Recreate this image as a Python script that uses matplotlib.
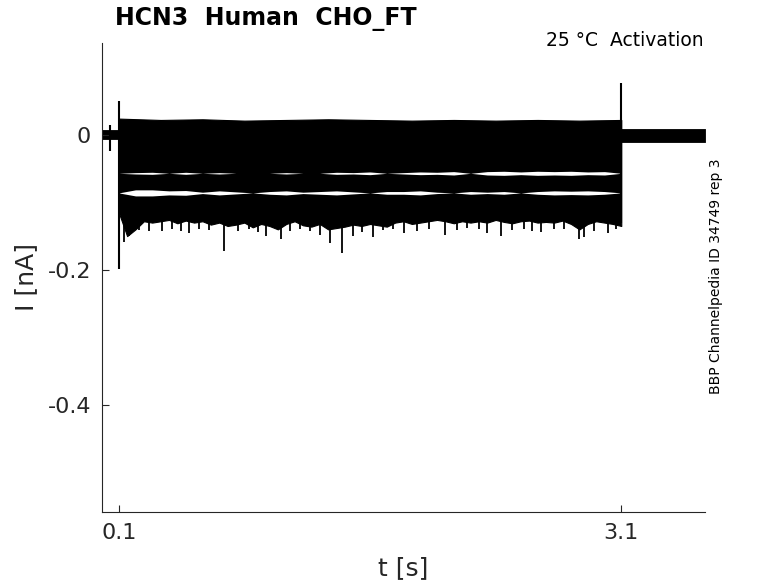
import numpy as np
import matplotlib
matplotlib.use("Agg")
import matplotlib.pyplot as plt

# ---------------- data ----------------
title = "HCN3  Human  CHO_FT"
condition = "25 °C  Activation"
side_note = "BBP Channelpedia ID 34749 rep 3"

x_ticks = [0.1, 3.1]
x_ticklabels = ["0.1", "3.1"]
y_ticks = [0.0, -0.2, -0.4]
y_ticklabels = ["0", "-0.2", "-0.4"]

step_on = 0.1       # s
step_off = 3.1      # s
t_end = 3.6         # s

# holding current band before / after the test pulse (nA)
pre_band = (-0.006, 0.007)
post_band = (-0.010, 0.009)
pre_blip_t = 0.05
pre_blip = (-0.024, 0.014)

# capacitive transients (nA)
on_transient = (-0.198, 0.050)
off_transient = (-0.130, 0.077)

# upper edge of the family of sweeps during the pulse, every 0.25 s
upper_env = [0.024, 0.022, 0.023, 0.021, 0.022, 0.023, 0.022,
             0.021, 0.022, 0.021, 0.022, 0.021, 0.022]

# lower edge of the deepest sweep during the pulse, every 0.05 s
lower_env = [-0.115, -0.150, -0.140, -0.128, -0.130, -0.128, -0.126, -0.131,
             -0.127, -0.130, -0.128, -0.133, -0.130, -0.135, -0.133, -0.130,
             -0.137, -0.132, -0.135, -0.140, -0.132, -0.128, -0.134, -0.136,
             -0.132, -0.140, -0.138, -0.136, -0.133, -0.135, -0.132, -0.134,
             -0.136, -0.130, -0.128, -0.132, -0.130, -0.128, -0.126, -0.128,
             -0.131, -0.128, -0.130, -0.128, -0.130, -0.126, -0.129, -0.131,
             -0.128, -0.127, -0.130, -0.129, -0.130, -0.127, -0.132, -0.140,
             -0.132, -0.128, -0.130, -0.132, -0.135]

# downward noise spikes of the lowest sweeps
spike_t = [0.13, 0.16, 0.36, 0.52, 0.73, 0.98, 1.07, 1.30, 1.36, 1.43,
           1.50, 1.62, 1.80, 2.05, 2.30, 2.38, 2.62, 2.85, 2.88, 3.02,
           0.22, 0.28, 0.42, 0.47, 0.58, 0.64, 0.81, 0.88, 0.93, 1.12,
           1.18, 1.24, 1.55, 1.68, 1.74, 1.88, 1.95, 2.12, 2.18, 2.25,
           2.45, 2.52, 2.57, 2.70, 2.76, 2.94, 3.07]
spike_v = [-0.158, -0.150, -0.142, -0.145, -0.172, -0.150, -0.155, -0.148,
           -0.160, -0.175, -0.150, -0.152, -0.145, -0.148, -0.146, -0.150,
           -0.144, -0.155, -0.152, -0.146,
           -0.141, -0.143, -0.140, -0.142, -0.139, -0.141, -0.143, -0.140,
           -0.144, -0.142, -0.140, -0.143, -0.144, -0.141, -0.140, -0.142,
           -0.139, -0.141, -0.138, -0.140, -0.141, -0.139, -0.142, -0.140,
           -0.139, -0.142, -0.140]

# spaces between neighbouring sweeps: level (nA) and half-opening every 0.1 s (nA)
gap_levels = [-0.057, -0.086]
gap_open = [
    [0, .001, .0015, 0, .0015, 0, .001, 0, 0, 0, .001, 0, 0, .0015,
     .001, .002, 0, .001, .002, .0015, .0025, 0, .0025, .003, .002, .003,
     .0025, .003, .002, .0025, 0],
    [0, .0045, .0045, .003, .0035, .001, .003, .0015, 0, .002, .003, .001,
     .002, .003, .0015, 0, .002, .002, .003, .001, 0, .002, .001, .002, 0,
     .002, .003, .0025, .003, .002, 0],
]

# ---------------- figure ----------------
fig = plt.figure(figsize=(7.78, 5.83), dpi=100)
ax = fig.add_axes([0.1311, 0.1218, 0.7751, 0.8045])
axis_col = "#262626"

t_up = np.linspace(step_on, step_off, len(upper_env))
t_low = np.linspace(step_on, step_off, len(lower_env))
t_gap = np.linspace(step_on, step_off, len(gap_open[0]))

# holding segments
ax.fill_between([0, step_on], pre_band[0], pre_band[1], color="k", lw=0.6)
ax.vlines(pre_blip_t, pre_blip[0], pre_blip[1], color="k", lw=1.5)
ax.fill_between([step_off, t_end], post_band[0], post_band[1], color="k", lw=0.6)

# family of sweeps during the pulse
up_i = np.interp(t_low, t_up, upper_env)
ax.fill_between(t_low, lower_env, up_i, color="k", lw=0.8, edgecolor="k")
ax.vlines(spike_t, np.interp(spike_t, t_low, lower_env) + 0.01, spike_v,
          color="k", lw=1.3)

for lvl, op in zip(gap_levels, gap_open):
    op = np.array(op)
    ax.fill_between(t_gap, lvl - op, lvl + op, color="white", lw=0)

# transients
ax.vlines(step_on, on_transient[0], on_transient[1], color="k", lw=1.5)
ax.vlines(step_off, off_transient[0], off_transient[1], color="k", lw=1.5)

# axes styling
ax.set_xlim(0, t_end)
ax.set_ylim(-0.5585, 0.136)
for s in ["top", "right"]:
    ax.spines[s].set_visible(False)
for s in ["left", "bottom"]:
    ax.spines[s].set_color(axis_col)
    ax.spines[s].set_linewidth(0.8)
ax.set_xticks(x_ticks)
ax.set_xticklabels(x_ticklabels)
ax.set_yticks(y_ticks)
ax.set_yticklabels(y_ticklabels)
ax.tick_params(direction="in", length=5, width=0.8, colors=axis_col,
               labelsize=16, pad=8)
ax.set_xlabel("t [s]", fontsize=18, color=axis_col, labelpad=9)
ax.set_ylabel("I [nA]", fontsize=18, color=axis_col, labelpad=7)

fig.text(115 / 778, 1 - 19 / 583, title, fontsize=17, fontweight="bold",
         ha="left", va="center", color="k")
fig.text(704 / 778, 1 - 40 / 583, condition, fontsize=13.5,
         ha="right", va="center", color="k")
fig.text(716 / 778, 1 - 276 / 583, side_note, fontsize=10, rotation=90,
         ha="center", va="center", color="k")

fig.savefig("out.png", dpi=100)
